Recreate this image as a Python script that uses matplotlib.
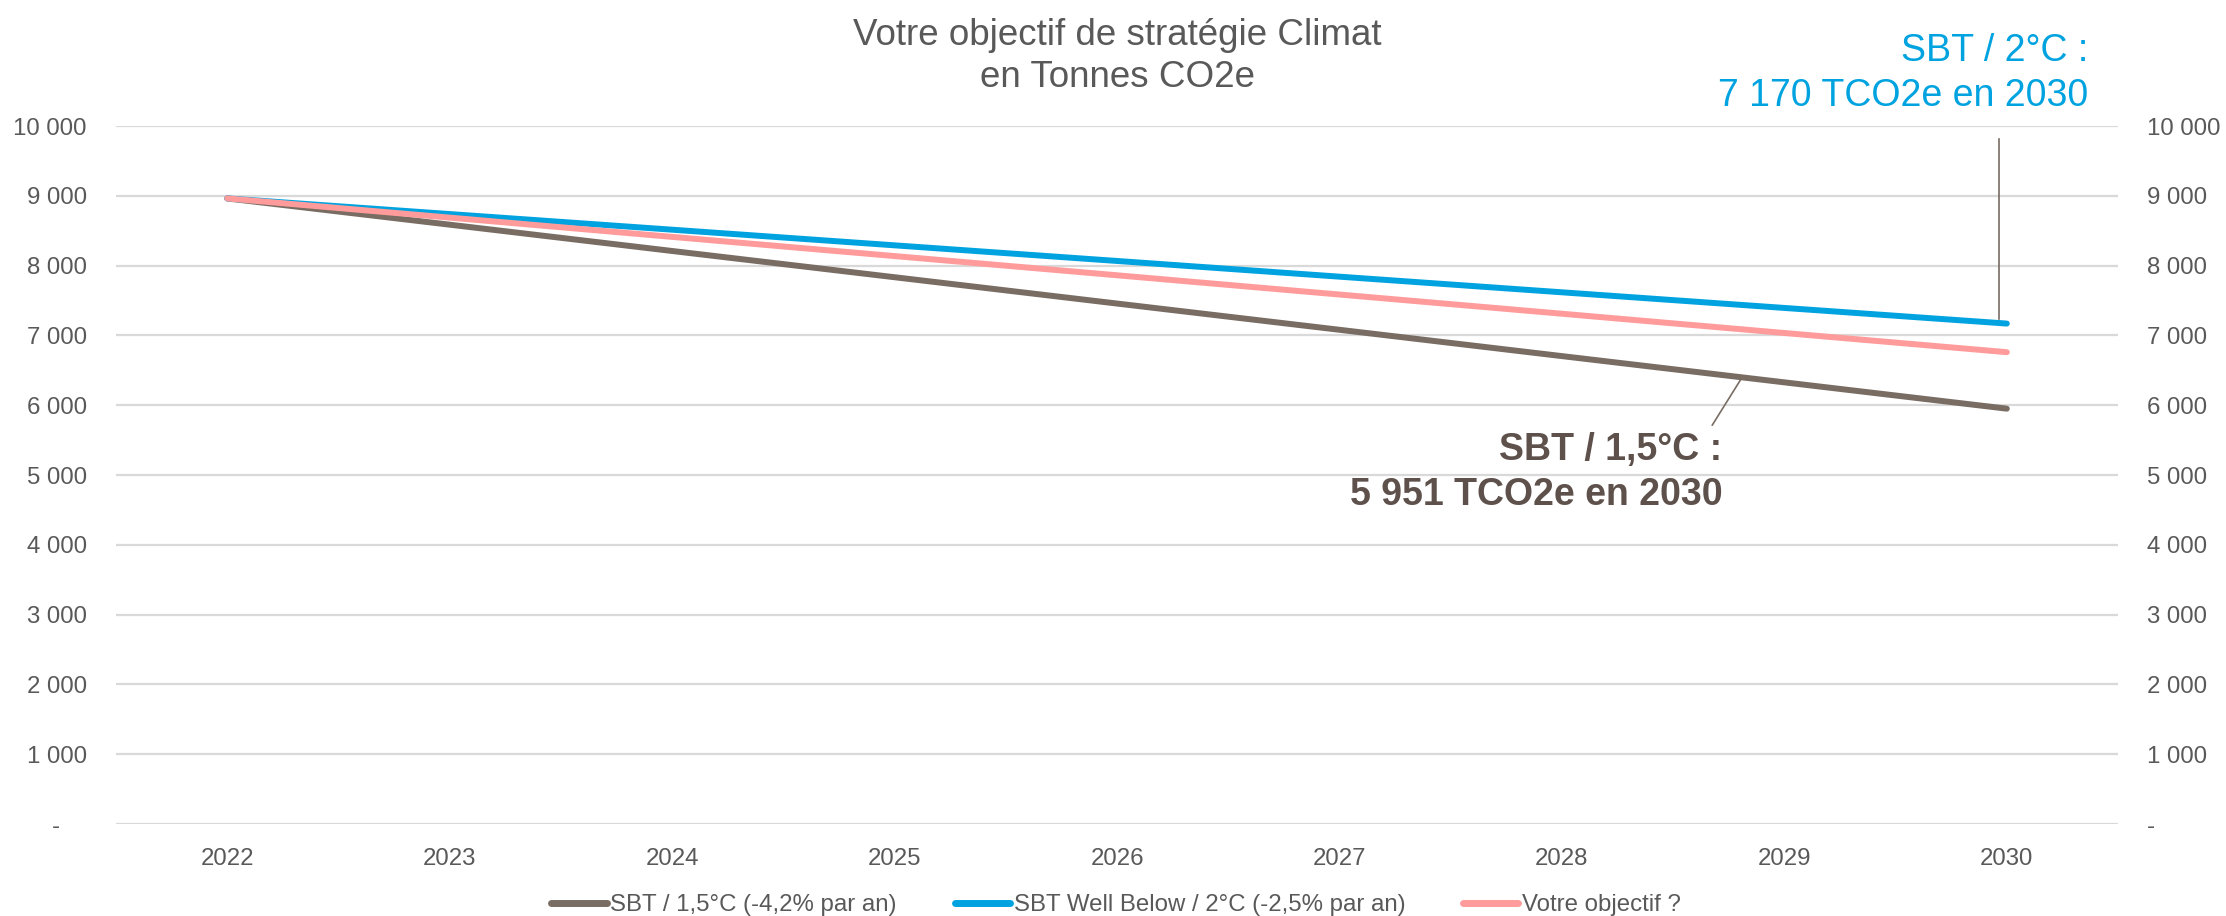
import matplotlib
matplotlib.use("Agg")
import matplotlib.pyplot as plt
from matplotlib.ticker import FixedLocator, FuncFormatter

plt.rcParams['font.family'] = ['Liberation Sans', 'DejaVu Sans']

# Data
years = ["2022", "2023", "2024", "2025", "2026", "2027", "2028", "2029", "2030"]
sbt_15 = [8963, 8587, 8210, 7834, 7457, 7081, 6704, 6328, 5951]
sbt_wb2 = [8963, 8739, 8515, 8291, 8067, 7842, 7618, 7394, 7170]
objectif = [8963, 8688, 8412, 8137, 7862, 7586, 7311, 7035, 6760]
series_labels = ["SBT / 1,5°C (-4,2% par an)",
                 "SBT Well Below / 2°C (-2,5% par an)",
                 "Votre objectif ?"]
y_ticks = [0, 1000, 2000, 3000, 4000, 5000, 6000, 7000, 8000, 9000, 10000]

C_BROWN = "#786C63"
C_BLUE = "#00A3E0"
C_PINK = "#FF9B9B"
C_TEXT = "#595959"
C_NOTE = "#5E514C"
C_GRID = "#D9D9D9"

fig = plt.figure(figsize=(22.26, 9.16), dpi=100)
ax = fig.add_axes([0.0521, 0.1004, 0.8994, 0.7620])

x = list(range(len(years)))
lw = 4.3
l1, = ax.plot(x, sbt_15, color=C_BROWN, lw=lw, solid_capstyle='round', zorder=3)
l2, = ax.plot(x, sbt_wb2, color=C_BLUE, lw=lw, solid_capstyle='round', zorder=3)
l3, = ax.plot(x, objectif, color=C_PINK, lw=lw, solid_capstyle='round', zorder=3)

ax.set_xlim(-0.5, len(years) - 0.5)
ax.set_ylim(0, 10000)
ax.set_xticks(x)
ax.set_xticklabels(years)

def fmt(v, pos):
    if v == 0:
        return "-    "
    return f"{int(v):,}".replace(",", " ")

ax.yaxis.set_major_locator(FixedLocator(y_ticks))
ax.yaxis.set_major_formatter(FuncFormatter(fmt))
ax.grid(axis='y', color=C_GRID, lw=1.6, zorder=0)
ax.set_axisbelow(True)
for s in ax.spines.values():
    s.set_visible(False)

ax.tick_params(axis='x', length=0, pad=17, labelsize=17.3, labelcolor=C_TEXT)
ax.tick_params(axis='y', length=0, pad=21, labelsize=17.3, labelcolor=C_TEXT,
               left=True, right=True, labelleft=True, labelright=True)

ax.set_title("Votre objectif de stratégie Climat\nen Tonnes CO2e",
             fontsize=26.5, color=C_TEXT, pad=28, linespacing=1.25)

# Annotation for the 2°C trajectory
ax.plot([7.965, 7.965], [sbt_wb2[-1] + 65, 9810], color=C_BROWN, lw=1.2,
        clip_on=False, zorder=2)
ax.text(8.367, 10755, "SBT / 2°C :\n7 170 TCO2e en 2030", ha='right', va='center',
        multialignment='right', fontsize=27, color=C_BLUE, linespacing=1.32,
        clip_on=False)

# Annotation for the 1.5°C trajectory
ax.plot([6.81, 6.676], [6400, 5716], color=C_BROWN, lw=1.2, zorder=2)
ax.text(6.721, 5040, "SBT / 1,5°C :\n5 951 TCO2e en 2030", ha='right', va='center',
        multialignment='right', fontsize=27, fontweight='bold', color=C_NOTE,
        linespacing=1.32)

leg = fig.legend([l1, l2, l3], series_labels, loc='center',
                 bbox_to_anchor=(0.5014, 1 - 905 / 916), ncol=3, frameon=False,
                 fontsize=17.3, labelcolor=C_TEXT, handlelength=2.3,
                 handletextpad=0.16, columnspacing=2.4)
for h in leg.get_lines():
    h.set_linewidth(5)
    h.set_solid_capstyle('round')

fig.savefig("out.png", dpi=100)
